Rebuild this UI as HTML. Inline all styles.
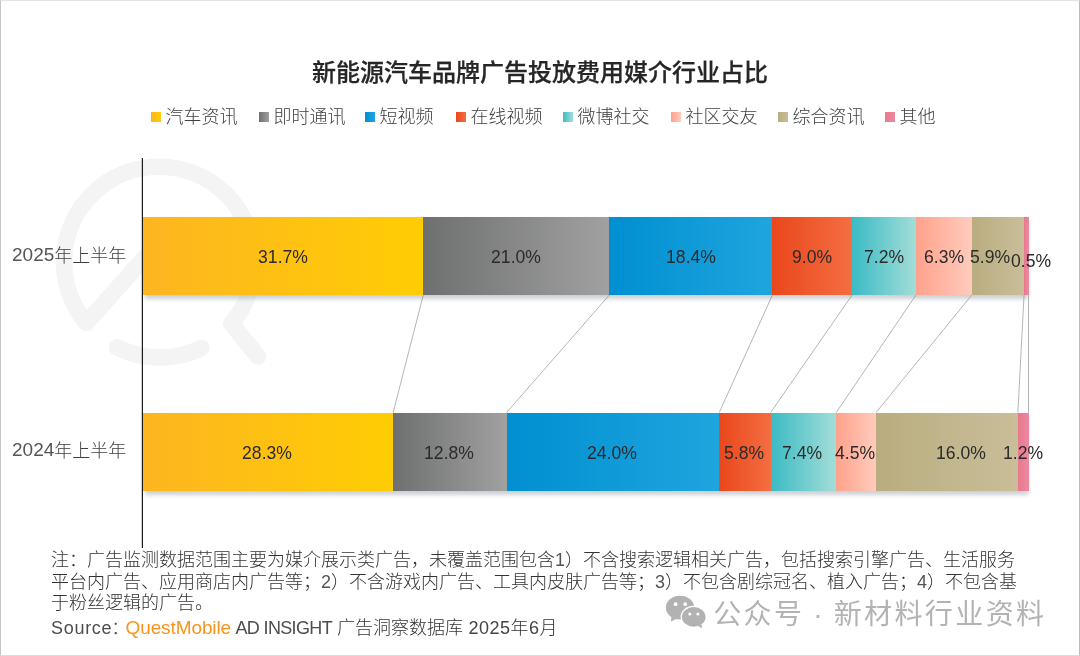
<!DOCTYPE html>
<html lang="zh-CN"><head><meta charset="utf-8"><title>新能源汽车品牌广告投放费用媒介行业占比</title>
<style>
html,body{margin:0;padding:0;background:#fff;}
body{width:1080px;height:656px;position:relative;overflow:hidden;font-family:"Liberation Sans","Noto Sans CJK SC",sans-serif;color:#404040;}
.abs{position:absolute;white-space:nowrap;}
.title{left:0;width:1080px;top:54.5px;text-align:center;font-size:24px;line-height:36px;font-weight:500;color:#262626;-webkit-text-stroke:.25px #262626;font-family:"Liberation Sans","Noto Sans CJK SC",sans-serif;}
.lg{font-size:18px;line-height:24px;font-weight:300;color:#404040;top:105px;}
.sq{position:absolute;width:10px;height:10px;top:112px;}
.ylab{font-size:18px;line-height:24px;font-weight:300;color:#404040;left:12px;}
.ylab b{font-weight:400;color:#555;font-size:19px;position:relative;top:-1px;}
.seg{position:absolute;}
.val{position:absolute;font-size:19px;line-height:24px;color:#2b2b2b;transform:translateX(-50%) scaleX(.925);white-space:nowrap;font-family:"Liberation Sans",sans-serif;}
.note{left:51px;top:550px;font-size:18px;line-height:21.6px;font-weight:300;color:#333;}
.note i{font-style:normal;color:#555;}
.src{top:616.4px;font-size:18px;line-height:24px;font-weight:300;color:#333;}
.qm{color:#F7941D;letter-spacing:-0.9px;font-weight:400;font-family:"Liberation Sans",sans-serif;}
.wm{left:713.2px;top:594.5px;font-size:28px;line-height:40px;letter-spacing:2.4px;word-spacing:-1.4px;color:#b3b3b3;font-weight:400;font-family:"Liberation Sans","Noto Sans CJK SC",sans-serif;}
</style></head><body>
<div class="abs" style="left:0;top:0;width:1078px;height:654px;border:1px solid;border-color:#e4e4e4 #bdbdbd #dcdcdc #c4c4c4;"></div>
<svg class="abs" style="left:0;top:0" width="1080" height="656" viewBox="0 0 1080 656">
<g fill="none" stroke="#f4f4f4" stroke-width="16.7" stroke-linecap="round" stroke-linejoin="round">
<path d="M170 229 L86.5 323 A95 95 0 1 1 231.2 323.6 L258 356.5"/>
<path d="M117 347.3 A95 95 0 0 0 201.5 347.9"/>
</g>
</svg>
<div class="abs title">新能源汽车品牌广告投放费用媒介行业占比</div>
<div class="sq" style="left:151px;background:linear-gradient(90deg,#FDB521,#FFCD03);"></div><div class="abs lg" style="left:165.5px">汽车资讯</div>
<div class="sq" style="left:259px;background:linear-gradient(90deg,#6E6F6F,#A1A1A1);"></div><div class="abs lg" style="left:273.5px">即时通讯</div>
<div class="sq" style="left:365px;background:linear-gradient(90deg,#008FD1,#1FA5DE);"></div><div class="abs lg" style="left:379.5px">短视频</div>
<div class="sq" style="left:456px;background:linear-gradient(90deg,#E9471B,#F36E42);"></div><div class="abs lg" style="left:470.5px">在线视频</div>
<div class="sq" style="left:563px;background:linear-gradient(90deg,#3BBBC4,#A3DDD8);"></div><div class="abs lg" style="left:577.5px">微博社交</div>
<div class="sq" style="left:671px;background:linear-gradient(90deg,#FFA28C,#FFCBBC);"></div><div class="abs lg" style="left:685.5px">社区交友</div>
<div class="sq" style="left:778px;background:linear-gradient(90deg,#B9AD7F,#C9BE99);"></div><div class="abs lg" style="left:792.5px">综合资讯</div>
<div class="sq" style="left:885px;background:linear-gradient(90deg,#E9788F,#EC8AA0);"></div><div class="abs lg" style="left:899.5px">其他</div>
<div class="seg" style="left:145.4px;top:220.0px;width:883.1px;height:78.5px;background:#aab0b8;filter:blur(2px);opacity:.6"></div>
<div class="seg" style="left:142.40px;top:216.5px;width:281.19px;height:78.5px;background:linear-gradient(90deg,#FDB521,#FFCD03);"></div>
<div class="seg" style="left:423.29px;top:216.5px;width:186.38px;height:78.5px;background:linear-gradient(90deg,#6E6F6F,#A1A1A1);"></div>
<div class="seg" style="left:609.37px;top:216.5px;width:163.34px;height:78.5px;background:linear-gradient(90deg,#008FD1,#1FA5DE);"></div>
<div class="seg" style="left:772.42px;top:216.5px;width:80.05px;height:78.5px;background:linear-gradient(90deg,#E9471B,#F36E42);"></div>
<div class="seg" style="left:852.17px;top:216.5px;width:64.10px;height:78.5px;background:linear-gradient(90deg,#3BBBC4,#A3DDD8);"></div>
<div class="seg" style="left:915.97px;top:216.5px;width:56.12px;height:78.5px;background:linear-gradient(90deg,#FFA28C,#FFCBBC);"></div>
<div class="seg" style="left:971.79px;top:216.5px;width:52.58px;height:78.5px;background:linear-gradient(90deg,#B9AD7F,#C9BE99);"></div>
<div class="seg" style="left:1024.07px;top:216.5px;width:4.73px;height:78.5px;background:linear-gradient(90deg,#E9788F,#EC8AA0);"></div>
<div class="seg" style="left:145.4px;top:416.0px;width:883.1px;height:78.5px;background:#aab0b8;filter:blur(2px);opacity:.6"></div>
<div class="seg" style="left:142.40px;top:412.5px;width:251.07px;height:78.5px;background:linear-gradient(90deg,#FDB521,#FFCD03);"></div>
<div class="seg" style="left:393.17px;top:412.5px;width:113.72px;height:78.5px;background:linear-gradient(90deg,#6E6F6F,#A1A1A1);"></div>
<div class="seg" style="left:506.59px;top:412.5px;width:212.96px;height:78.5px;background:linear-gradient(90deg,#008FD1,#1FA5DE);"></div>
<div class="seg" style="left:719.25px;top:412.5px;width:51.69px;height:78.5px;background:linear-gradient(90deg,#E9471B,#F36E42);"></div>
<div class="seg" style="left:770.64px;top:412.5px;width:65.87px;height:78.5px;background:linear-gradient(90deg,#3BBBC4,#A3DDD8);"></div>
<div class="seg" style="left:836.22px;top:412.5px;width:40.17px;height:78.5px;background:linear-gradient(90deg,#FFA28C,#FFCBBC);"></div>
<div class="seg" style="left:876.09px;top:412.5px;width:142.08px;height:78.5px;background:linear-gradient(90deg,#B9AD7F,#C9BE99);"></div>
<div class="seg" style="left:1017.87px;top:412.5px;width:10.93px;height:78.5px;background:linear-gradient(90deg,#E9788F,#EC8AA0);"></div>
<svg class="abs" style="left:0;top:0" width="1080" height="656" viewBox="0 0 1080 656">
<line x1="423.29" y1="295.0" x2="393.17" y2="412.5" stroke="#8c8c8c" stroke-width="0.65"/>
<line x1="609.37" y1="295.0" x2="506.59" y2="412.5" stroke="#8c8c8c" stroke-width="0.65"/>
<line x1="772.42" y1="295.0" x2="719.25" y2="412.5" stroke="#8c8c8c" stroke-width="0.65"/>
<line x1="852.17" y1="295.0" x2="770.64" y2="412.5" stroke="#8c8c8c" stroke-width="0.65"/>
<line x1="915.97" y1="295.0" x2="836.22" y2="412.5" stroke="#8c8c8c" stroke-width="0.65"/>
<line x1="971.79" y1="295.0" x2="876.09" y2="412.5" stroke="#8c8c8c" stroke-width="0.65"/>
<line x1="1024.07" y1="295.0" x2="1017.87" y2="412.5" stroke="#8c8c8c" stroke-width="0.65"/>
<line x1="1028.50" y1="295.0" x2="1028.50" y2="412.5" stroke="#8c8c8c" stroke-width="0.65"/>
<line x1="142.4" y1="158" x2="142.4" y2="548" stroke="#1a1a1a" stroke-width="1.2"/>
</svg>
<div class="val" style="left:282.8px;top:245.1px">31.7%</div>
<div class="val" style="left:516.3px;top:245.1px">21.0%</div>
<div class="val" style="left:690.9px;top:245.1px">18.4%</div>
<div class="val" style="left:812.3px;top:245.1px">9.0%</div>
<div class="val" style="left:884.1px;top:245.1px">7.2%</div>
<div class="val" style="left:943.9px;top:245.1px">6.3%</div>
<div class="val" style="left:990.0px;top:245.0px">5.9%</div>
<div class="val" style="left:1031.0px;top:248.5px">0.5%</div>
<div class="val" style="left:266.8px;top:441.1px">28.3%</div>
<div class="val" style="left:448.9px;top:441.1px">12.8%</div>
<div class="val" style="left:611.9px;top:441.1px">24.0%</div>
<div class="val" style="left:743.9px;top:441.1px">5.8%</div>
<div class="val" style="left:802.4px;top:441.1px">7.4%</div>
<div class="val" style="left:855.2px;top:441.1px">4.5%</div>
<div class="val" style="left:961.0px;top:441.0px">16.0%</div>
<div class="val" style="left:1023.0px;top:441.0px">1.2%</div>
<div class="abs ylab" style="top:244px"><b>2025</b>年上半年</div>
<div class="abs ylab" style="top:438.6px"><b>2024</b>年上半年</div>
<div class="abs note">注：广告监测数据范围主要为媒介展示类广告，未覆盖范围包含<i>1</i>）不含搜索逻辑相关广告，包括搜索引擎广告、生活服务<br>平台内广告、应用商店内广告等；<i>2</i>）不含游戏内广告、工具内皮肤广告等；<i>3</i>）不包含剧综冠名、植入广告；<i>4</i>）不包含基<br>于粉丝逻辑的广告。</div>
<div class="abs src" style="left:51px;letter-spacing:.7px;color:#4d4d4d">Source<span style="letter-spacing:0;margin-left:-1px">：</span></div>
<div class="abs src qm" style="left:125.5px;font-size:19px;letter-spacing:-.1px">QuestMobile</div>
<div class="abs src" style="left:235.5px;letter-spacing:-.65px;color:#4d4d4d">AD INSIGHT</div>
<div class="abs src" style="left:337px">广告洞察数据库</div>
<div class="abs src" style="left:468.5px;letter-spacing:.5px"><span style="color:#444">2025</span>年<span style="color:#444">6</span>月</div>
<svg class="abs" style="left:664px;top:594px" width="46" height="38" viewBox="0 0 46 38">
<g fill="#b2b2b2">
<ellipse cx="16" cy="13.6" rx="14.2" ry="11.8"/>
<path d="M7.6 21 L6.9 27.6 L13 24.6 Z"/>
</g>
<ellipse cx="29.7" cy="22.9" rx="13.1" ry="11.1" fill="#fff"/>
<g fill="#b2b2b2">
<ellipse cx="29.7" cy="22.9" rx="11.8" ry="9.8"/>
<path d="M33.8 32 L37.9 34.2 L37.6 30 Z"/>
</g>
<g fill="#fff">
<circle cx="11.6" cy="10.2" r="1.85"/><circle cx="21.2" cy="10.2" r="1.85"/>
<circle cx="25.8" cy="20" r="1.55"/><circle cx="33.9" cy="20" r="1.55"/>
</g>
</svg>
<div class="abs wm">公众号 · 新材料行业资料</div>
</body></html>
